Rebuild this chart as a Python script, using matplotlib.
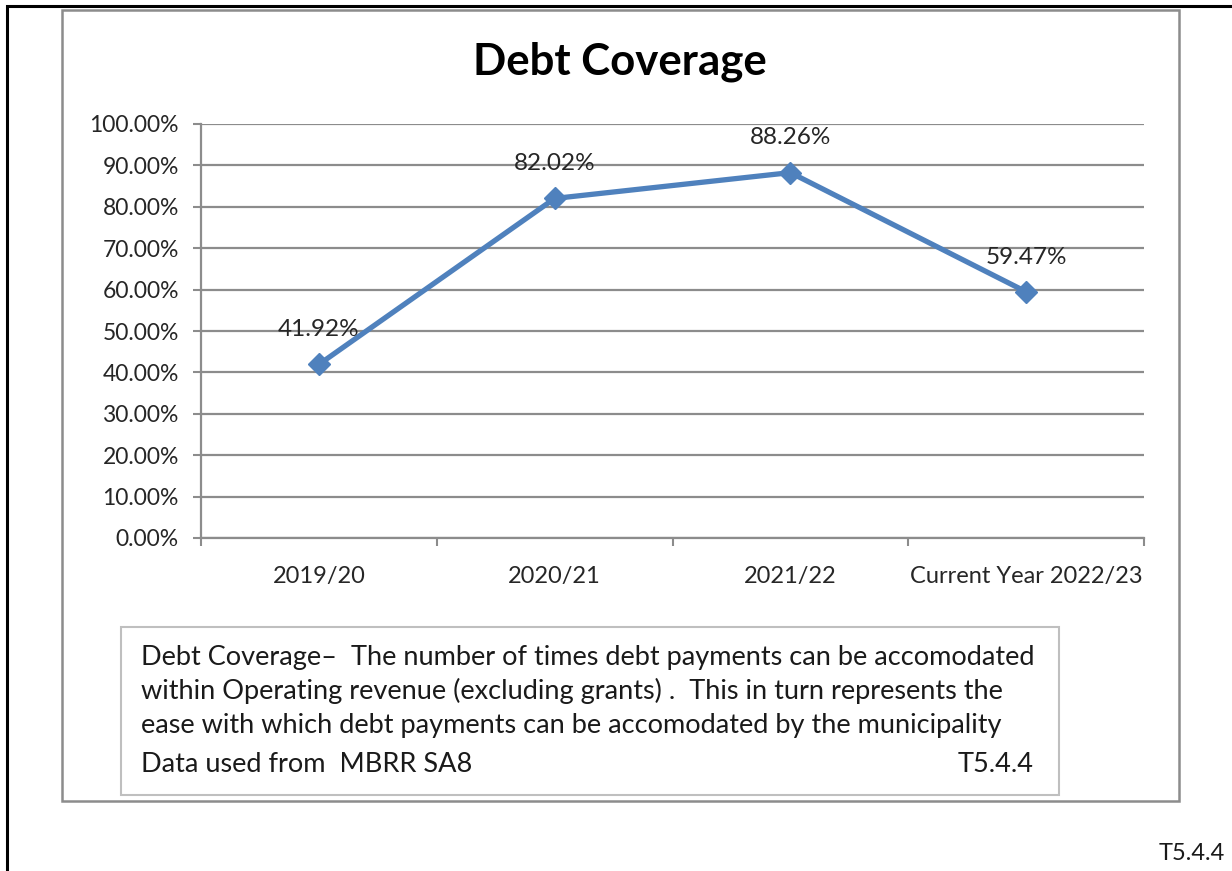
import matplotlib
matplotlib.use('Agg')
import matplotlib.pyplot as plt
import matplotlib as mpl
from matplotlib.patches import Rectangle
from matplotlib.ticker import FuncFormatter, MultipleLocator

mpl.rcParams['font.family'] = ['Lato', 'DejaVu Sans']

# debt coverage ratio per financial year
years = ['2019/20', '2020/21', '2021/22', 'Current Year 2022/23']
coverage = [0.4192, 0.8202, 0.8826, 0.5947]

note_lines = [
    'Debt Coverage\u2013  The number of times debt payments can be accomodated',
    'within Operating revenue (excluding grants) .  This in turn represents the',
    'ease with which debt payments can be accomodated by the municipality',
    'Data used from  MBRR SA8',
]
table_ref = 'T5.4.4'

W, H = 1232, 871
fig = plt.figure(figsize=(W / 100, H / 100), dpi=100)
fig.patch.set_facecolor('white')


def box(x0, y0, x1, y1, **kw):
    """rectangle given in pixel coords from the top-left corner"""
    fig.patches.append(Rectangle((x0 / W, 1 - y1 / H), (x1 - x0) / W, (y1 - y0) / H,
                                 transform=fig.transFigure, fill=False, **kw))


# page frame, chart frame and note frame
box(7, 6, 1245, 885, edgecolor='black', linewidth=2.2)
box(62, 10, 1179, 801, edgecolor='#8c8c8c', linewidth=1.8)
box(121, 627, 1059, 795, edgecolor='#bfbfbf', linewidth=1.5)

ax = fig.add_axes([201 / W, 1 - 538 / H, (1144 - 201) / W, (538 - 124) / H])
xs = list(range(len(years)))
ax.plot(xs, coverage, color='#4f81bd', linewidth=3.8, marker='D', markersize=11,
        markeredgecolor='#4f81bd', zorder=3)

for x, v in zip(xs, coverage):
    ax.annotate(f'{v * 100:.2f}%', (x, v), xytext=(0, 25), textcoords='offset points',
                ha='center', va='center', fontsize=17.5, color='#262626')

ax.set_xlim(-0.5, len(years) - 0.5)
ax.set_ylim(0, 1)
ax.yaxis.set_major_locator(MultipleLocator(0.1))
ax.yaxis.set_major_formatter(FuncFormatter(lambda v, p: f'{v * 100:.2f}%'))
ax.set_xticks(xs)
ax.set_xticklabels(years)
ax.set_xticks([x - 0.5 for x in range(len(years) + 1)], minor=True)
ax.tick_params(axis='x', which='major', length=0, pad=20, labelsize=17, labelcolor='#262626')
ax.tick_params(axis='x', which='minor', length=6, width=1.5, color='#8c8c8c', direction='out')
ax.tick_params(axis='y', length=6, width=1.5, color='#8c8c8c', pad=10,
               labelsize=16.5, labelcolor='#262626')
ax.grid(axis='y', color='#8c8c8c', linewidth=1.6)
ax.set_axisbelow(True)
for side in ('top', 'right'):
    ax.spines[side].set_visible(False)
for side in ('left', 'bottom'):
    ax.spines[side].set_color('#8c8c8c')
    ax.spines[side].set_linewidth(1.6)

fig.text(620 / W, 1 - 62 / H, 'Debt Coverage', ha='center', va='center',
         fontsize=31.5, fontweight='bold', color='black')

line_y = [657, 691, 725, 764]
for y, line in zip(line_y, note_lines):
    fig.text(141 / W, 1 - y / H, line, ha='left', va='center', fontsize=19.5, color='#1a1a1a')
fig.text(1034 / W, 1 - line_y[-1] / H, table_ref, ha='right', va='center',
         fontsize=19.5, color='#1a1a1a')
fig.text(1225 / W, 1 - 853 / H, table_ref, ha='right', va='center',
         fontsize=17, color='#1a1a1a')

fig.savefig('out.png', dpi=100)
